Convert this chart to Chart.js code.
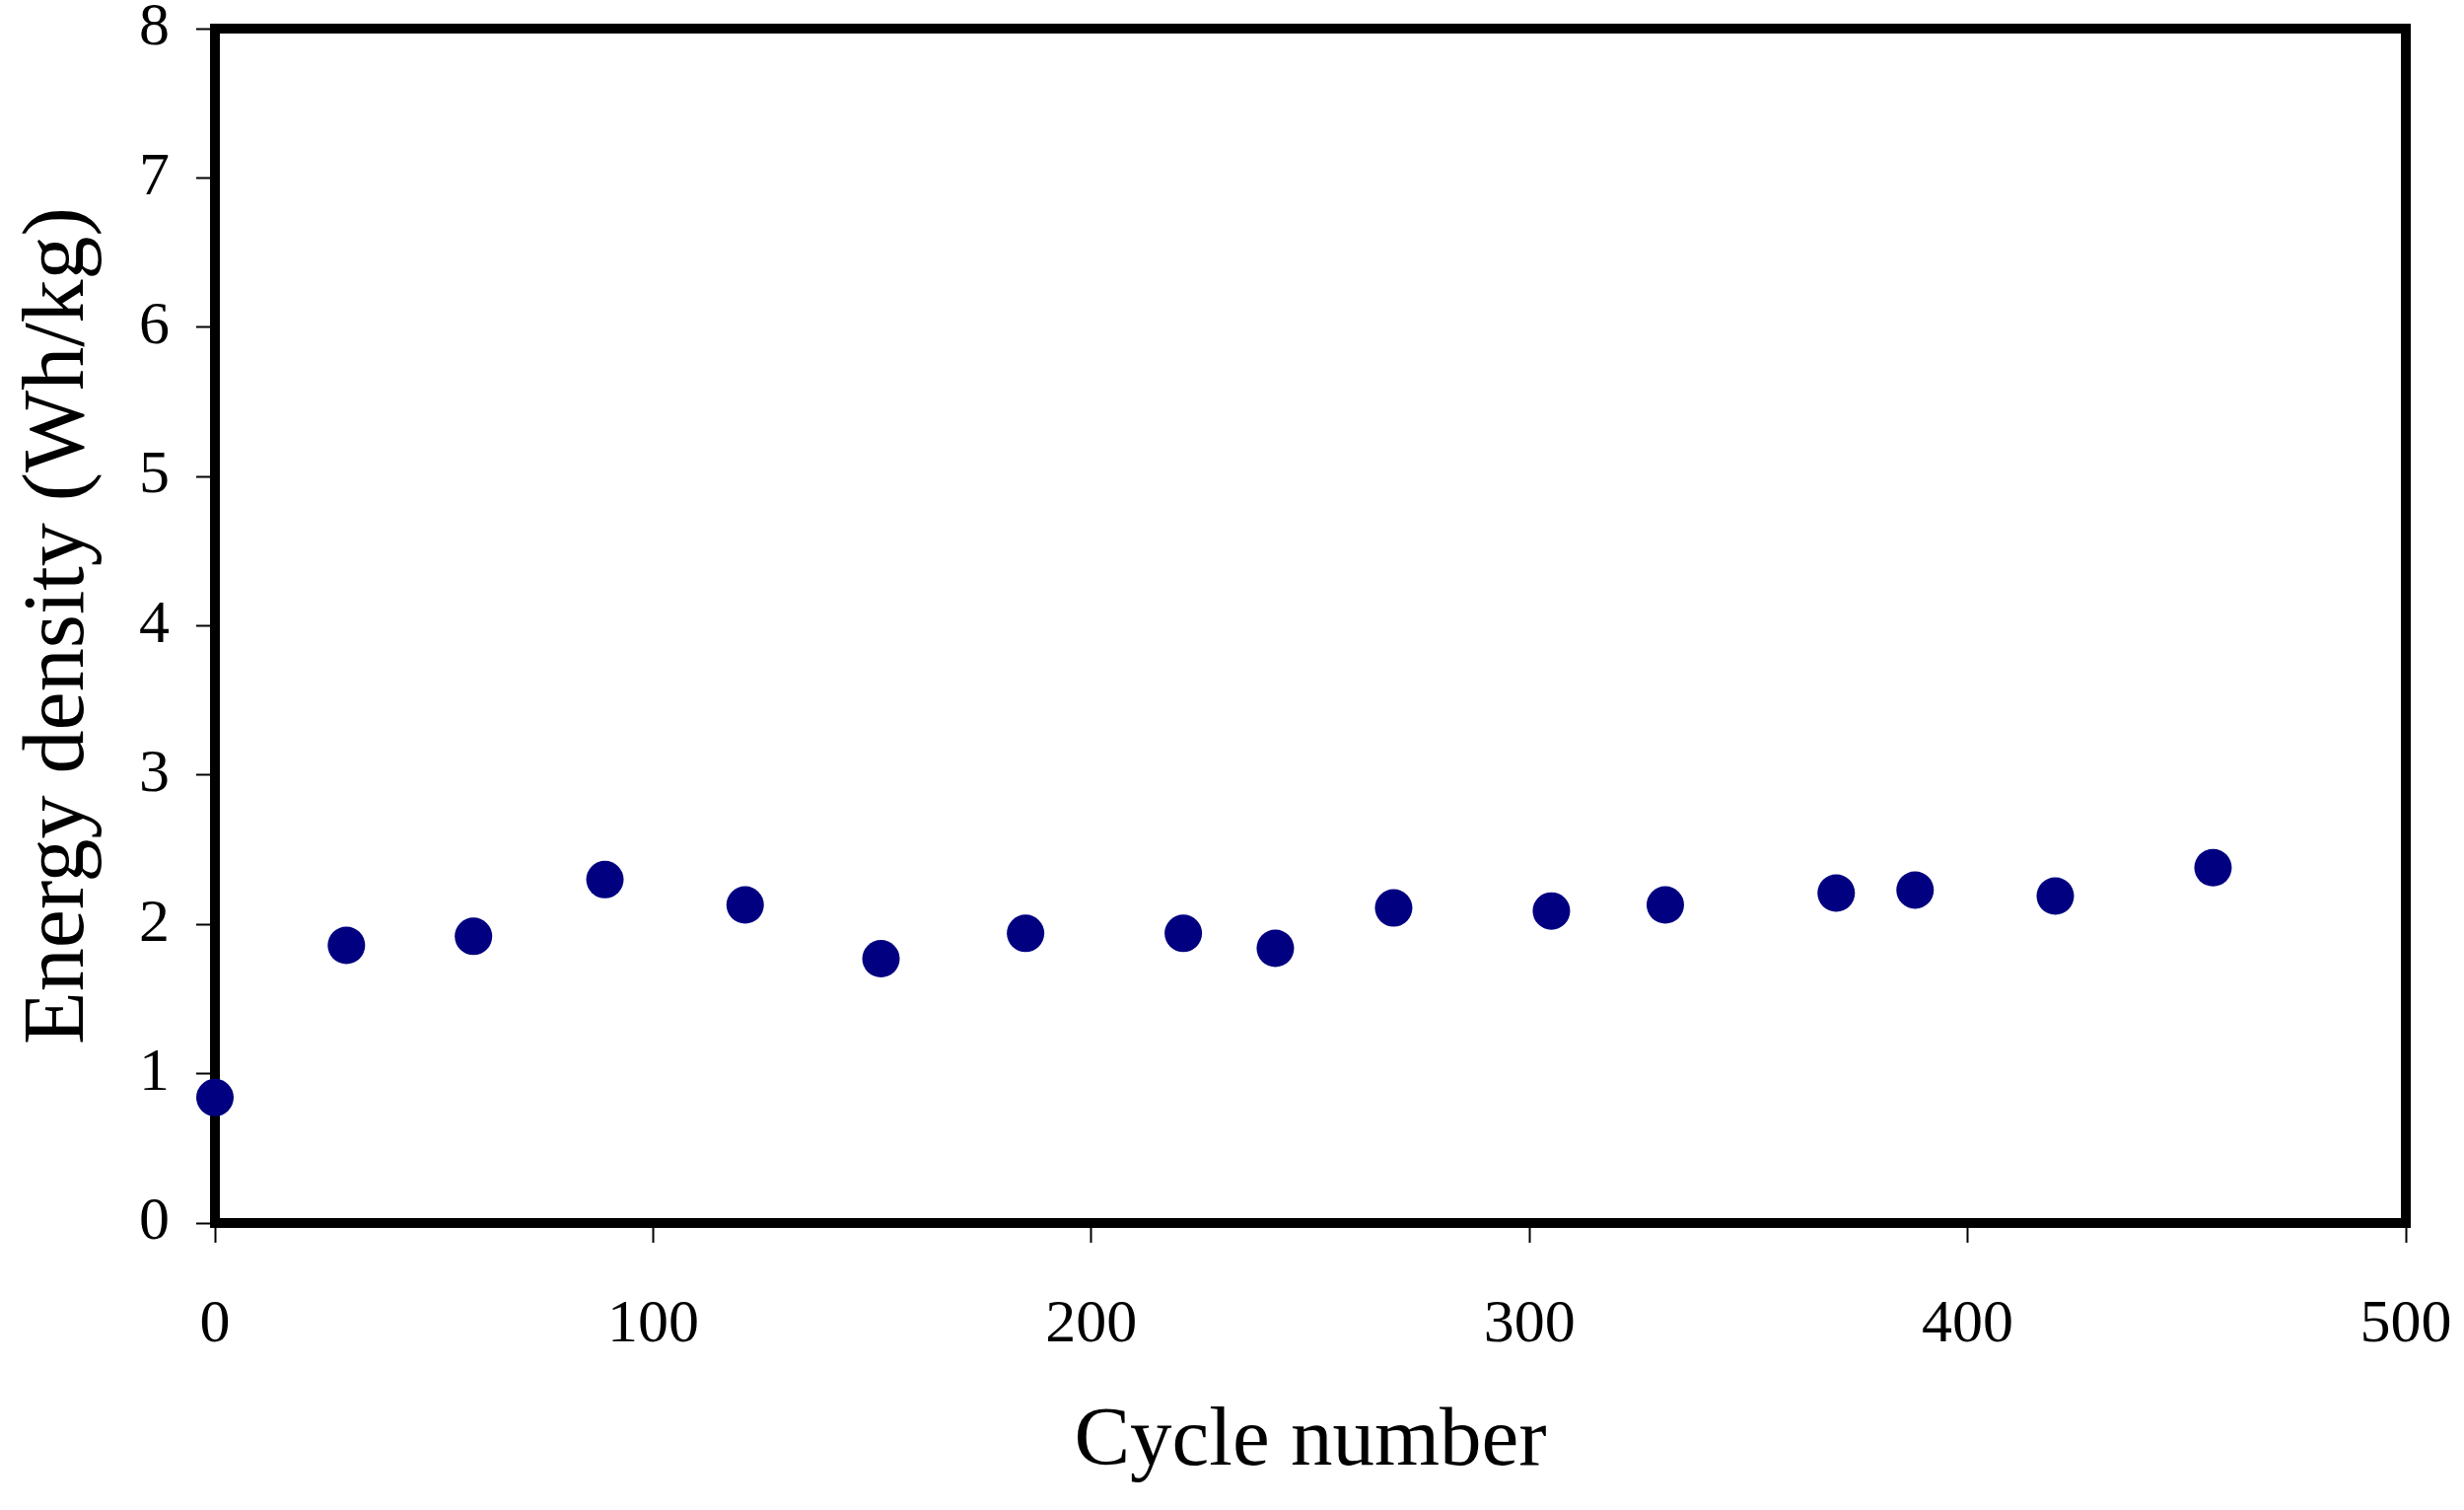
<!DOCTYPE html>
<html>
<head>
<meta charset="utf-8">
<title>Energy density vs cycle number</title>
<script src="https://cdn.jsdelivr.net/npm/chart.js@4.4.0/dist/chart.umd.min.js"></script>
<style>
    html, body { margin: 0; padding: 0; background: #fff; }
    canvas { display: block; }
</style>
</head>
<body>
<canvas id="myChart" width="2499" height="1531"></canvas>
<script>
// values
const cycles = [0, 30, 59, 89, 121, 152, 185, 221, 242, 269, 305, 331, 370, 388, 420, 456];
const energyDensity = [0.84, 1.86, 1.92, 2.30, 2.13, 1.77, 1.94, 1.94, 1.84, 2.11, 2.09, 2.13, 2.21, 2.23, 2.19, 2.38];
const xTicks = [0, 100, 200, 300, 400, 500];
const yTicks = [0, 1, 2, 3, 4, 5, 6, 7, 8];

const fontFamily = '"Liberation Serif", "Times New Roman", serif';

// thick black box round the plot area, drawn under the points
const frame = {
    id: 'frame',
    beforeDatasetsDraw(chart) {
        const a = chart.chartArea;
        const ctx = chart.ctx;
        ctx.save();
        ctx.strokeStyle = '#000';
        ctx.lineWidth = 10;
        ctx.lineJoin = 'miter';
        ctx.strokeRect(a.left, a.top, a.right - a.left, a.bottom - a.top);
        ctx.restore();
    }
};

function setTicks(list) {
    return function (scale) {
        scale.ticks = list.map(v => ({ value: v }));
    };
}

const points = cycles.map((c, i) => ({ x: c, y: energyDensity[i] }));

const ctx = document.getElementById('myChart').getContext('2d');
const myChart = new Chart(ctx, {
    type: 'scatter',
    data: {
        datasets: [{
            data: points,
            backgroundColor: '#000080',
            borderWidth: 0,
            pointRadius: 19,
            pointHoverRadius: 19,
            clip: false
        }]
    },
    options: {
        responsive: false,
        animation: false,
        layout: {
            padding: { top: 29, right: 59, left: 0, bottom: 0 }
        },
        plugins: {
            legend: { display: false },
            tooltip: { enabled: false }
        },
        scales: {
            x: {
                type: 'linear',
                min: 0,
                max: 500,
                afterBuildTicks: setTicks(xTicks),
                afterFit(scale) {
                    scale.height = 291;
                    scale.paddingLeft = 0;
                    scale.paddingRight = 0;
                },
                border: { display: false },
                grid: {
                    drawOnChartArea: false,
                    drawTicks: true,
                    tickLength: 20,
                    tickWidth: 2,
                    tickColor: '#000'
                },
                ticks: {
                    color: '#000',
                    padding: 47,
                    maxRotation: 0,
                    font: { family: fontFamily, size: 62 }
                },
                title: {
                    display: true,
                    text: 'Cycle number',
                    color: '#000',
                    padding: { top: 0, bottom: 17 },
                    font: { family: fontFamily, size: 85 }
                }
            },
            y: {
                type: 'linear',
                min: 0,
                max: 8,
                afterBuildTicks: setTicks(yTicks),
                afterFit(scale) {
                    scale.width = 218;
                    scale.paddingTop = 0;
                    scale.paddingBottom = 0;
                },
                border: { display: false },
                grid: {
                    drawOnChartArea: false,
                    drawTicks: true,
                    tickLength: 19,
                    tickWidth: 2,
                    tickColor: '#000'
                },
                ticks: {
                    color: '#000',
                    padding: 27,
                    font: { family: fontFamily, size: 62 }
                },
                title: {
                    display: true,
                    text: 'Energy density (Wh/kg)',
                    color: '#000',
                    padding: { top: 8, bottom: 0 },
                    font: { family: fontFamily, size: 88 }
                }
            }
        }
    },
    plugins: [frame]
});
</script>
</body>
</html>
